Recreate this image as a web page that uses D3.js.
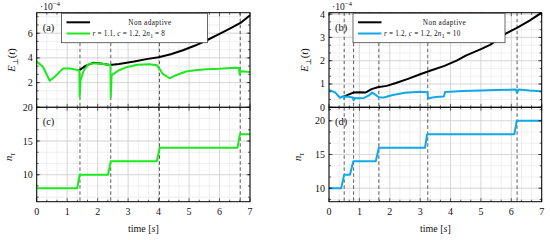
<!DOCTYPE html>
<html>
<head>
<meta charset="utf-8">
<script src="https://cdn.jsdelivr.net/npm/d3@7"></script>
<style>
  body { margin: 0; background: #fff; }
  svg text { font-family: "Liberation Serif", "DejaVu Serif", serif; fill: #111; }
</style>
</head>
<body>
<div id="chart"></div>
<script>
// ---- data ----
// panel (a): E_perp(t), units of 1e-4
var nonAdaptA_t = [1.4, 1.6, 1.85, 2.1, 2.4, 2.7, 3.2, 3.6, 4.0, 4.4, 4.8, 5.2, 5.6, 6.0, 6.4, 6.7, 7.0];
var nonAdaptA_e = [3.0, 3.35, 3.6, 3.55, 3.42, 3.5, 3.7, 3.9, 4.05, 4.3, 4.62, 5.0, 5.45, 5.95, 6.45, 6.85, 7.45];
var adaptA_t = [0, 0.2, 0.43, 0.6, 0.87, 1.1, 1.38, 1.40, 1.41, 1.44, 1.55, 1.7, 1.9, 2.2, 2.40, 2.42, 2.43, 2.46, 2.7, 2.95, 3.3, 3.7, 3.95, 4.02, 4.14, 4.36, 4.57, 4.9, 5.2, 5.56, 6.0, 6.5, 6.64, 6.66, 6.68, 6.72, 7.0];
var adaptA_e = [3.7, 3.3, 2.15, 2.5, 3.15, 3.15, 3.0, 2.95, 0.85, 2.2, 3.0, 3.5, 3.56, 3.5, 3.43, 3.4, 0.8, 2.6, 3.0, 3.25, 3.45, 3.48, 3.4, 3.15, 2.7, 2.35, 2.6, 2.9, 3.0, 3.08, 3.12, 3.2, 3.18, 2.65, 2.9, 2.92, 2.85];
// panel (b)
var nonAdaptB_t = [0.47, 0.6, 0.8, 1.0, 1.2, 1.4, 1.6, 1.9, 2.2, 2.6, 3.0, 3.3, 3.8, 4.2, 4.5, 5.0, 5.3, 5.8, 6.2, 6.6, 7.0];
var nonAdaptB_e = [0.45, 0.52, 0.63, 0.65, 0.63, 0.78, 0.86, 0.92, 1.04, 1.22, 1.42, 1.56, 1.78, 2.0, 2.22, 2.5, 2.68, 3.15, 3.42, 3.72, 4.06];
var adaptB_t = [0, 0.2, 0.36, 0.47, 0.50, 0.53, 0.64, 0.78, 0.81, 0.85, 1.0, 1.15, 1.3, 1.42, 1.55, 1.64, 1.8, 2.1, 2.5, 3.0, 3.24, 3.26, 3.4, 3.6, 3.78, 3.82, 4.4, 5.0, 5.5, 6.15, 6.19, 6.23, 6.6, 7.0];
var adaptB_e = [0.74, 0.64, 0.41, 0.48, 0.38, 0.46, 0.45, 0.42, 0.30, 0.40, 0.39, 0.40, 0.5, 0.63, 0.52, 0.43, 0.42, 0.53, 0.62, 0.67, 0.65, 0.38, 0.42, 0.45, 0.46, 0.66, 0.70, 0.72, 0.74, 0.76, 0.62, 0.76, 0.72, 0.69];
// panels (c), (d): n_tau
var nC_t = [0, 1.33, 1.41, 2.34, 2.43, 3.94, 4.04, 6.59, 6.67, 7.0];
var nC_n = [8, 8, 10, 10, 12, 12, 14, 14, 16, 16];
var nD_t = [0, 0.40, 0.50, 0.69, 0.80, 1.54, 1.64, 3.16, 3.23, 6.10, 6.18, 7.0];
var nD_n = [10, 10, 12, 12, 14, 14, 16, 16, 18, 18, 20, 20];
// refinement instants (dashed)
var refineLeft = [1.42, 2.43, 4.03, 6.68];
var refineRight = [0.5, 0.81, 1.64, 3.25, 6.19];
// ticks (the 0 of panel (a) sits under the 20 of panel (c))
var xTicks = [0, 1, 2, 3, 4, 5, 6, 7];
var yTicksA = [0, 2, 4, 6];
var yLabelsA = [2, 4, 6];
var yTicksB = [0, 1, 2, 3, 4];
var yTicksN = [10, 15, 20];

var green = "#1ee81e", blue = "#12a8e6";
var serif = "'Liberation Serif', 'DejaVu Serif', serif";

var W = 550, H = 240;
var svg = d3.select("#chart").append("svg").attr("width", W).attr("height", H)
  .attr("font-family", serif);

var yTop = 12.7, yMid = 107.3, yBot = 201.7;
var xL = d3.scaleLinear().domain([0, 7]).range([36.7, 250]);
var xR = d3.scaleLinear().domain([0, 7]).range([329, 541.7]);

function zip(ts, vs) { return ts.map(function(t, i) { return [t, vs[i]]; }); }

function minorVals(domain, step) {
  var out = [];
  var start = Math.ceil(domain[0] / step - 1e-6);
  for (var k = start; k * step <= domain[1] + 1e-6; k++) out.push(k * step);
  return out;
}

var clipId = 0;
function panel(o) {
  var g = svg.append("g");
  var x = o.x, y = o.y;
  var x0 = x.range()[0], x1 = x.range()[1], y0 = y.range()[1], y1 = y.range()[0];
  // minor grid
  minorVals(x.domain(), 1 / 3).forEach(function(v) {
    g.append("line").attr("x1", x(v)).attr("x2", x(v)).attr("y1", y0).attr("y2", y1)
      .attr("stroke", "#e6e6e6").attr("stroke-width", 0.6);
  });
  o.yMinor.forEach(function(v) {
    g.append("line").attr("x1", x0).attr("x2", x1).attr("y1", y(v)).attr("y2", y(v))
      .attr("stroke", "#e6e6e6").attr("stroke-width", 0.6);
  });
  // major grid
  xTicks.forEach(function(v) {
    g.append("line").attr("x1", x(v)).attr("x2", x(v)).attr("y1", y0).attr("y2", y1)
      .attr("stroke", "#cfcfcf").attr("stroke-width", 0.7);
  });
  o.yTicks.forEach(function(v) {
    g.append("line").attr("x1", x0).attr("x2", x1).attr("y1", y(v)).attr("y2", y(v))
      .attr("stroke", "#cfcfcf").attr("stroke-width", 0.7);
  });
  // dashed refinement lines
  o.refine.forEach(function(v) {
    g.append("line").attr("x1", x(v)).attr("x2", x(v)).attr("y1", y0).attr("y2", y1)
      .attr("stroke", "#333").attr("stroke-width", 0.8).attr("stroke-dasharray", "3.5,2.5");
  });
  // series
  var id = "clip" + (clipId++);
  svg.append("clipPath").attr("id", id).append("rect")
    .attr("x", x0).attr("y", y0 - 1).attr("width", x1 - x0).attr("height", y1 - y0 + 2);
  var line = d3.line().x(function(d) { return x(d[0]); }).y(function(d) { return y(d[1]); });
  o.series.forEach(function(s) {
    g.append("path").datum(s.data).attr("clip-path", "url(#" + id + ")")
      .attr("fill", "none").attr("stroke", s.color).attr("stroke-width", 2)
      .attr("stroke-linejoin", "round").attr("d", line);
  });
  // ticks, inside, all four sides
  var tk = g.append("g").attr("stroke", "#000").attr("stroke-width", 0.6);
  minorVals(x.domain(), 1 / 3).forEach(function(v) {
    var len = xTicks.indexOf(Math.round(v * 1e6) / 1e6) >= 0 ? 3.5 : 2;
    tk.append("line").attr("x1", x(v)).attr("x2", x(v)).attr("y1", y1).attr("y2", y1 - len);
    tk.append("line").attr("x1", x(v)).attr("x2", x(v)).attr("y1", y0).attr("y2", y0 + len);
  });
  o.yMinor.forEach(function(v) {
    tk.append("line").attr("x1", x0).attr("x2", x0 + 2).attr("y1", y(v)).attr("y2", y(v));
    tk.append("line").attr("x1", x1).attr("x2", x1 - 2).attr("y1", y(v)).attr("y2", y(v));
  });
  o.yTicks.forEach(function(v) {
    tk.append("line").attr("x1", x0).attr("x2", x0 + 3.5).attr("y1", y(v)).attr("y2", y(v));
    tk.append("line").attr("x1", x1).attr("x2", x1 - 3.5).attr("y1", y(v)).attr("y2", y(v));
  });
  // frame
  g.append("rect").attr("x", x0).attr("y", y0).attr("width", x1 - x0).attr("height", y1 - y0)
    .attr("fill", "none").attr("stroke", "#000").attr("stroke-width", 1);
  // y tick labels
  (o.yLabels || o.yTicks).forEach(function(v) {
    g.append("text").attr("x", x0 - 4).attr("y", y(v)).attr("dy", "0.35em")
      .attr("text-anchor", "end").attr("font-size", 10).text(v);
  });
  // x tick labels
  if (o.xLabels) {
    xTicks.forEach(function(v) {
      g.append("text").attr("x", x(v)).attr("y", y1 + 13).attr("text-anchor", "middle")
        .attr("font-size", 10).text(v);
    });
    var tl = g.append("text").attr("x", (x0 + x1) / 2).attr("y", 232)
      .attr("text-anchor", "middle").attr("font-size", 10);
    tl.append("tspan").text("time [");
    tl.append("tspan").attr("font-style", "italic").text("s");
    tl.append("tspan").text("]");
  }
  // panel letter
  g.append("text").attr("x", x0 + 6).attr("y", y0 + 18).attr("font-size", 10.5).text(o.letter);
  return g;
}

function yLabel(xb, yc, kind) {
  var t = svg.append("text").attr("transform", "translate(" + xb + "," + yc + ") rotate(-90)")
    .attr("text-anchor", "middle").attr("font-size", 10.5);
  if (kind === "E") {
    t.append("tspan").attr("font-style", "italic").text("E");
    t.append("tspan").attr("font-size", 7.5).attr("dy", 2.5).text("⊥");
    t.append("tspan").attr("dy", -2.5).text("(");
    t.append("tspan").attr("font-style", "italic").text("t");
    t.append("tspan").text(")");
  } else {
    t.append("tspan").attr("font-style", "italic").text("n");
    t.append("tspan").attr("font-size", 7.5).attr("dy", 2.5).attr("font-style", "italic").text("τ");
  }
}

function scaleNote(x0) {
  var t = svg.append("text").attr("x", x0).attr("y", 10).attr("font-size", 9.5);
  t.append("tspan").text("·10");
  t.append("tspan").attr("font-size", 7).attr("dy", -4).text("−4");
}

function legend(bx, bw, color, parts) {
  var g = svg.append("g");
  g.append("rect").attr("x", bx).attr("y", 13.3).attr("width", bw).attr("height", 29.4)
    .attr("fill", "#fff").attr("stroke", "#444").attr("stroke-width", 0.8);
  g.append("line").attr("x1", bx + 5).attr("x2", bx + 28.5).attr("y1", 22.3).attr("y2", 22.3)
    .attr("stroke", "#000").attr("stroke-width", 2);
  g.append("line").attr("x1", bx + 5).attr("x2", bx + 28.5).attr("y1", 33.5).attr("y2", 33.5)
    .attr("stroke", color).attr("stroke-width", 2);
  g.append("text").attr("x", bx + 31 + (bw - 31) / 2).attr("y", 24.8).attr("text-anchor", "middle")
    .attr("font-size", 7.2).attr("letter-spacing", 0.4).text("Non adaptive");
  var t = g.append("text").attr("x", bx + 31).attr("y", 36).attr("font-size", 7.2)
    .attr("letter-spacing", 0.2);
  parts.forEach(function(p) {
    var s = t.append("tspan").text(p[0]);
    if (p[1] === "i") s.attr("font-style", "italic");
    if (p[1] === "sub") s.attr("font-size", 5.5).attr("dy", 1.8);
    if (p[1] === "after") s.attr("dy", -1.8);
  });
}

var yA = d3.scaleLinear().domain([0, 7.66]).range([yMid, yTop]);
var yB = d3.scaleLinear().domain([0, 4.06]).range([yMid, yTop]);
var yC = d3.scaleLinear().domain([6, 20]).range([yBot, yMid]);
var yD = d3.scaleLinear().domain([8, 22]).range([yBot, yMid]);

panel({ x: xL, y: yA, yTicks: yTicksA, yLabels: yLabelsA, yMinor: minorVals(yA.domain(), 2 / 3),
  refine: refineLeft, letter: "(a)", series: [
    { data: zip(nonAdaptA_t, nonAdaptA_e), color: "#000" },
    { data: zip(adaptA_t, adaptA_e), color: green }] });
panel({ x: xL, y: yC, yTicks: yTicksN, yMinor: minorVals(yC.domain(), 5 / 3), refine: refineLeft,
  letter: "(c)", xLabels: true, series: [{ data: zip(nC_t, nC_n), color: green }] });
panel({ x: xR, y: yB, yTicks: yTicksB, yMinor: minorVals(yB.domain(), 1 / 3), refine: refineRight,
  letter: "(b)", series: [
    { data: zip(nonAdaptB_t, nonAdaptB_e), color: "#000" },
    { data: zip(adaptB_t, adaptB_e), color: blue }] });
panel({ x: xR, y: yD, yTicks: yTicksN, yMinor: minorVals(yD.domain(), 5 / 3), refine: refineRight,
  letter: "(d)", xLabels: true, series: [{ data: zip(nD_t, nD_n), color: blue }] });

yLabel(15, 60, "E");
yLabel(12, 157, "n");
yLabel(308, 60, "E");
yLabel(301, 157, "n");
scaleNote(40);
scaleNote(332);

legend(61.5, 146, green, [["r", "i"], [" = 1.1, "], ["c", "i"], [" = 1.2, 2"], ["n", "i"], ["1", "sub"], [" = 8", "after"]]);
legend(353, 152, blue, [["r", "i"], [" = 1.2, "], ["c", "i"], [" = 1.2, 2"], ["n", "i"], ["1", "sub"], [" = 10", "after"]]);
</script>
</body>
</html>
